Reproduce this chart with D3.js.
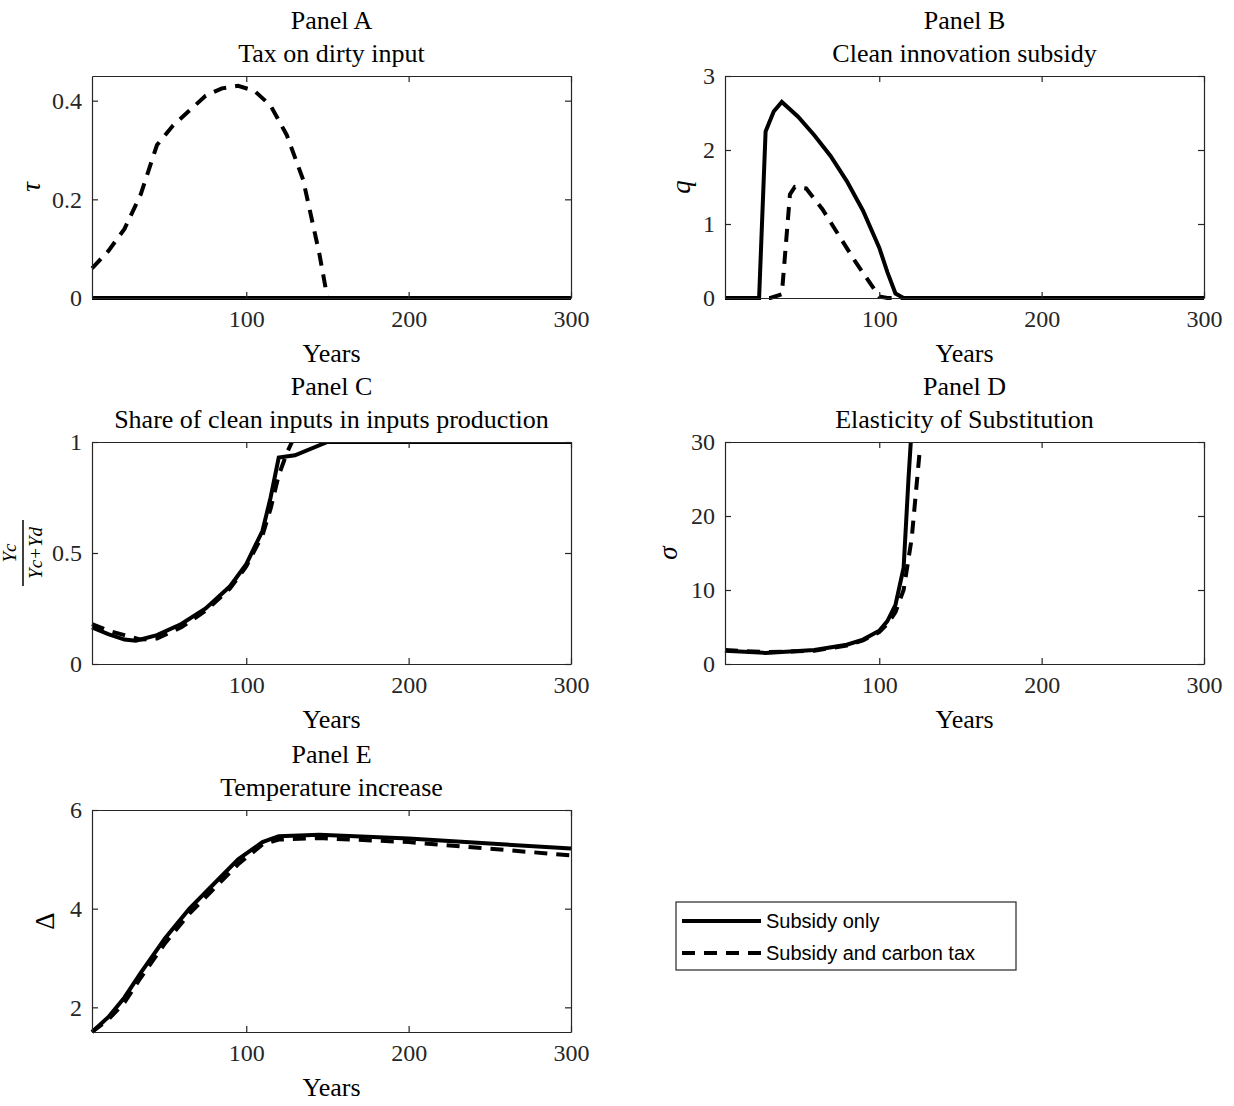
<!DOCTYPE html>
<html><head><meta charset="utf-8">
<script src="https://cdn.jsdelivr.net/npm/d3@7"></script>
<style>body{margin:0;background:#fff}svg{display:block}</style>
</head><body>
<svg id="fig" width="1234" height="1106"></svg>
<script>
// years (5..300) and series values
var taxYears = [5,15,25,35,45,55,65,75,85,95,105,115,125,135,145,150,300];
var taxWithTax = [0.06,0.095,0.14,0.21,0.31,0.35,0.38,0.41,0.425,0.43,0.42,0.39,0.33,0.24,0.09,0,0];
var taxSubOnly = [0,0,0,0,0,0,0,0,0,0,0,0,0,0,0,0,0];

var subYearsA = [5,26,30,35,40,50,60,70,80,90,100,105,110,115,300];
var subOnly = [0,0,2.25,2.52,2.65,2.45,2.2,1.92,1.58,1.18,0.68,0.35,0.06,0,0];
var subYearsB = [5,33,40,45,48,55,65,75,85,95,100,105,300];
var subWithTax = [0,0,0.05,1.4,1.5,1.48,1.2,0.85,0.5,0.18,0.02,0,0];

var shareYears = [5,15,25,32,45,60,75,90,100,110,115,120,130,150,300];
var shareSubOnly = [0.165,0.135,0.11,0.105,0.13,0.18,0.25,0.35,0.45,0.6,0.75,0.93,0.94,1,1];
var shareYearsB = [5,15,25,35,45,60,75,90,100,110,115,120,125,130,150,300];
var shareWithTax = [0.18,0.15,0.13,0.11,0.115,0.165,0.24,0.34,0.44,0.58,0.7,0.85,0.95,1.03,1,1];

var sigYears = [5,30,60,80,90,100,105,110,115,118,120];
var sigSubOnly = [1.8,1.5,1.9,2.6,3.3,4.5,5.8,8,13,25,32];
var sigYearsB = [5,30,60,80,90,100,105,110,115,120,125];
var sigWithTax = [1.9,1.6,1.8,2.5,3.2,4.3,5.4,7,10,17,29];

var tempYears = [5,15,25,35,50,65,80,95,110,120,145,200,300];
var tempSubOnly = [1.5,1.8,2.2,2.7,3.4,4.0,4.5,5.0,5.35,5.47,5.5,5.42,5.22];
var tempWithTax = [1.5,1.75,2.1,2.6,3.3,3.9,4.4,4.9,5.3,5.4,5.43,5.35,5.08];

var xTicks = [100,200,300];

var svg = d3.select("#fig");
var serif = "Liberation Serif";
var W = 479, H = 222;

function panel(opt){
    var g = svg.append("g").attr("transform","translate("+opt.x+","+opt.y+")");
    var x = d3.scaleLinear().domain([5,300]).range([0,W]);
    var y = d3.scaleLinear().domain(opt.yDomain).range([H,0]);
    var clipId = "clip"+opt.id;
    g.append("clipPath").attr("id",clipId).append("rect")
        .attr("x",-3).attr("y",0).attr("width",W+6).attr("height",H+3);

    g.append("text").attr("x",W/2).attr("y",-47).attr("text-anchor","middle")
        .attr("font-family",serif).attr("font-size",26).text(opt.panel);
    g.append("text").attr("x",W/2).attr("y",-14).attr("text-anchor","middle")
        .attr("font-family",serif).attr("font-size",26).text(opt.title);

    var lines = g.append("g").attr("clip-path","url(#"+clipId+")");
    opt.series.forEach(function(s){
        var pts = s.xs.map(function(d,i){ return [d, s.ys[i]]; });
        lines.append("path").datum(pts)
            .attr("d", d3.line().x(function(d){return x(d[0]);}).y(function(d){return y(d[1]);}))
            .attr("fill","none").attr("stroke","#000").attr("stroke-width",4)
            .attr("stroke-dasharray", s.dash ? "13,9" : null);
    });

    var bx = g.append("g").attr("transform","translate(0,"+H+")")
        .call(d3.axisBottom(x).tickValues(xTicks).tickSizeInner(-6).tickSizeOuter(0).tickPadding(12));
    var tx = g.append("g").call(d3.axisTop(x).tickValues(xTicks).tickSizeInner(-6).tickSizeOuter(0).tickFormat(""));
    var ly = g.append("g").call(d3.axisLeft(y).tickValues(opt.yTicks).tickSizeInner(-6).tickSizeOuter(0).tickPadding(10).tickFormat(opt.fmt));
    var ry = g.append("g").attr("transform","translate("+W+",0)")
        .call(d3.axisRight(y).tickValues(opt.yTicks).tickSizeInner(-6).tickSizeOuter(0).tickFormat(""));
    [bx,tx,ly,ry].forEach(function(a){
        a.attr("font-family",serif).attr("font-size",24);
        a.selectAll("path,line").attr("stroke","#262626").attr("stroke-width",1.2);
        a.selectAll("text").attr("fill","#262626");
    });

    g.append("text").attr("x",W/2).attr("y",H+64).attr("text-anchor","middle")
        .attr("font-family",serif).attr("font-size",26).text("Years");
    var yl = g.append("text").attr("transform","translate("+opt.ylx+","+(H/2)+") rotate(-90)")
        .attr("text-anchor","middle").attr("font-family",serif).attr("font-size",27)
        .attr("font-style", opt.italic ? "italic" : "normal");
    if (opt.frac) {
        yl.attr("font-size",19).attr("font-style","italic").attr("dy",-4).text("Yc");
        g.append("line").attr("x1",opt.ylx+3).attr("x2",opt.ylx+3).attr("y1",H/2-33).attr("y2",H/2+33)
            .attr("stroke","#000").attr("stroke-width",1.5);
        g.append("text").attr("transform","translate("+(opt.ylx+22)+","+(H/2)+") rotate(-90)")
            .attr("text-anchor","middle").attr("font-family",serif).attr("font-size",19)
            .attr("font-style","italic").text("Yc+Yd");
    } else {
        yl.text(opt.ylabel);
    }
}

panel({id:"A",x:92,y:76,yDomain:[0,0.45],yTicks:[0,0.2,0.4],fmt:function(d){return d===0?"0":d3.format(".1f")(d);},
    panel:"Panel A",title:"Tax on dirty input",ylabel:"τ",italic:true,ylx:-52,
    series:[{xs:taxYears,ys:taxWithTax,dash:true},{xs:taxYears,ys:taxSubOnly}]});
panel({id:"B",x:725,y:76,yDomain:[0,3],yTicks:[0,1,2,3],fmt:d3.format("d"),
    panel:"Panel B",title:"Clean innovation subsidy",ylabel:"q",italic:true,ylx:-35,
    series:[{xs:subYearsB,ys:subWithTax,dash:true},{xs:subYearsA,ys:subOnly}]});
panel({id:"C",x:92,y:442,yDomain:[0,1],yTicks:[0,0.5,1],fmt:function(d){return d===0.5?"0.5":d3.format("d")(d);},
    panel:"Panel C",title:"Share of clean inputs in inputs production",frac:true,ylx:-72,
    series:[{xs:shareYearsB,ys:shareWithTax,dash:true},{xs:shareYears,ys:shareSubOnly}]});
panel({id:"D",x:725,y:442,yDomain:[0,30],yTicks:[0,10,20,30],fmt:d3.format("d"),
    panel:"Panel D",title:"Elasticity of Substitution",ylabel:"σ",italic:true,ylx:-48,
    series:[{xs:sigYearsB,ys:sigWithTax,dash:true},{xs:sigYears,ys:sigSubOnly}]});
panel({id:"E",x:92,y:810,yDomain:[1.5,6],yTicks:[2,4,6],fmt:d3.format("d"),
    panel:"Panel E",title:"Temperature increase",ylabel:"Δ",italic:false,ylx:-38,
    series:[{xs:tempYears,ys:tempWithTax,dash:true},{xs:tempYears,ys:tempSubOnly}]});

// legend
var lg = svg.append("g").attr("transform","translate(676,902)");
lg.append("rect").attr("width",340).attr("height",68).attr("fill","#fff").attr("stroke","#262626").attr("stroke-width",1.2);
var legendNames = ["Subsidy only","Subsidy and carbon tax"];
legendNames.forEach(function(n,i){
    var yy = 19 + i*32;
    lg.append("line").attr("x1",6).attr("x2",85).attr("y1",yy).attr("y2",yy)
        .attr("stroke","#000").attr("stroke-width",4).attr("stroke-dasharray", i ? "13,9" : null);
    lg.append("text").attr("x",90).attr("y",yy+7).attr("font-family","Liberation Sans")
        .attr("font-size",20).text(n);
});
</script>
</body></html>
